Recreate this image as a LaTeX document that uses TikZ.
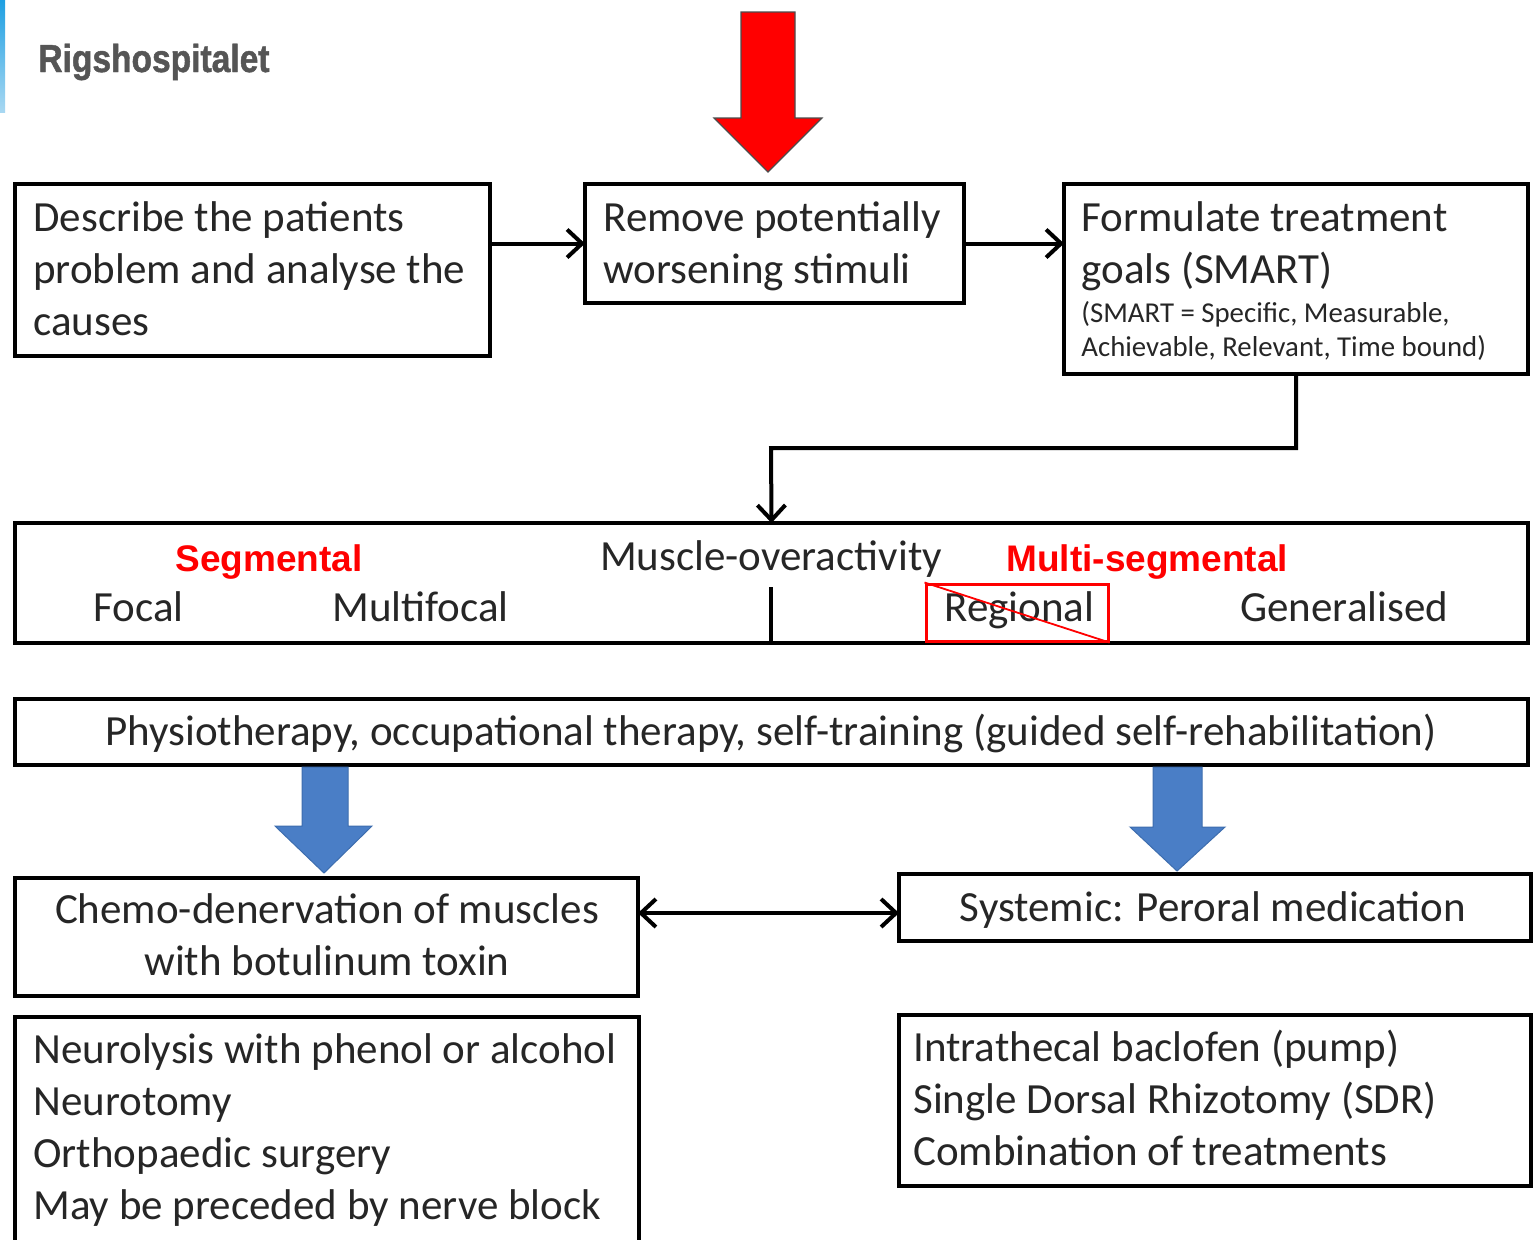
\documentclass[tikz,border=0pt]{standalone}
\usepackage{fontspec}
\setmainfont{Carlito}
\newfontfamily\labfont{Liberation Sans}
\newfontfamily\logofont[FakeStretch=0.86,FakeBold=1.2]{Liberation Sans Bold}
\usetikzlibrary{arrows.meta,calc}
\definecolor{txtgray}{HTML}{262626}
\definecolor{logogray}{HTML}{555555}
\definecolor{arrblue}{HTML}{4A7EC6}
\definecolor{arrblueedge}{HTML}{3D6DAE}
\definecolor{barblue}{HTML}{1E9FE2}
\definecolor{barlight}{HTML}{A8D8F2}
\newcommand\mybox[5]{\node[boxst, minimum width={(#4-#2)*0.5pt}, minimum height={(#5-#3)*0.5pt}] (#1) at ({(#2+#4)/2},{(#3+#5)/2}) {};}
\begin{document}
\begin{tikzpicture}[x=0.5pt,y=-0.5pt,
  boxst/.style={draw=black, line width=2.3pt, inner sep=0pt, outer sep=0pt, fill=white},
  txt/.style={inner sep=0pt, text=txtgray, font=\fontsize{21.5}{26}\selectfont, align=left},
  smalltxt/.style={inner sep=0pt, text=txtgray, font=\fontsize{14.4}{17}\selectfont, align=left},
  redlab/.style={inner sep=0pt, text=red, font=\labfont\bfseries\fontsize{18.5}{22}\selectfont},
  conn/.style={draw=black, line width=2pt, -{Straight Barb[length=7.5pt,width=14pt,line width=2pt]}},
  dbl/.style={draw=black, line width=2pt, {Straight Barb[length=7.5pt,width=14pt,line width=2pt]}-{Straight Barb[length=7.5pt,width=14pt,line width=2pt]}}
]
\useasboundingbox (0,0) rectangle (1536,1239);
\fill[white] (0,0) rectangle (1536,1239);

% logo
\shade[top color=barblue, bottom color=barlight] (0,0) rectangle (5,112);
\node[inner sep=0pt, anchor=base west, text=logogray, font=\logofont\fontsize{19.5}{22}\selectfont] (logo) at (38,72) {Rigshospitalet};

% top boxes
\mybox{b1}{15}{184}{490}{356}
\mybox{b2}{585}{184}{964}{303}
\mybox{b3}{1064}{184}{1528}{374}

\node[txt, anchor=base west] (t1) at (33,335) {Describe the patients\\problem and analyse the\\causes};
\node[txt, anchor=base west] (t2) at (603,283) {Remove potentially\\worsening stimuli};
\node[txt, anchor=base west] (t3) at (1081,283) {Formulate treatment\\goals (SMART)};
\node[smalltxt, anchor=base west] (t3s) at (1081,356) {(SMART = Specific, Measurable,\\Achievable, Relevant, Time bound)};

% red arrow
\filldraw[fill=red, draw=black!70, line width=0.6pt] (741,12) -- (795,12) -- (795,118) -- (822,118) -- (768,172) -- (714,118) -- (741,118) -- cycle;

\draw[conn] (b1.east |- b2.west) -- (b2.west);
\draw[conn] (b2.east) -- (b3.west |- b2.east);

% muscle box
\mybox{mb}{15}{523}{1528}{643}
\coordinate (bend) at (771,448);
\draw[conn] (b3.south) |- (bend) -- (mb.north);
\coordinate (divtop) at (771,587);
\draw[black, line width=2pt] (divtop) -- (divtop |- mb.south);

\node[txt, anchor=base] (mo) at (771,570) {Muscle-overactivity};
\node[redlab, anchor=base west] (seg) at (175,571) {Segmental};
\node[redlab, anchor=base west] (mseg) at (1006,571) {Multi-segmental};
\node[txt, anchor=base west] (focal) at (93,621) {Focal};
\node[txt, anchor=base west] (multi) at (332,621) {Multifocal};
\node[txt, anchor=base west] (reg) at (944,621) {Regional};
\node[txt, anchor=base west] (gen) at (1240,621) {Generalised};
\node[draw=red, line width=1.5pt, inner sep=0pt, minimum width={182*0.5pt}, minimum height={57*0.5pt}] (regbox) at (1017,612.5) {};
\draw[red, line width=0.9pt] (regbox.north west) -- (regbox.south east);

% physio box
\mybox{pb}{15}{699}{1528}{765}
\node[txt, anchor=base] (pt) at (771,745) {Physiotherapy, occupational therapy, self-training (guided self-rehabilitation)};

% blue arrows
\filldraw[fill=arrblue, draw=arrblueedge, line width=0.5pt] (302,767) -- (348,767) -- (348,826) -- (372,826) -- (324,873) -- (275,826) -- (302,826) -- cycle;
\filldraw[fill=arrblue, draw=arrblueedge, line width=0.5pt] (1153,767) -- (1202,767) -- (1202,827) -- (1225,827) -- (1177,871) -- (1130,827) -- (1153,827) -- cycle;

% lower boxes
\mybox{cb}{15}{878}{638}{996}
\mybox{sb}{899}{874}{1531}{941}
\node[txt, anchor=base, align=center] (ct) at (327,975) {Chemo-denervation of muscles\\with botulinum toxin};
\node[txt, anchor=base] (st) at (1213,921) {Systemic: Peroral medication};
\coordinate (dy) at (0,913);
\draw[dbl] (cb.east |- dy) -- (sb.west |- dy);

\mybox{nb}{15}{1017}{639}{1250}
\node[txt, anchor=base west] (nt) at (33,1219) {Neurolysis with phenol or alcohol\\Neurotomy\\Orthopaedic surgery\\May be preceded by nerve block};

\mybox{ib}{899}{1015}{1531}{1186}
\node[txt, anchor=base west] (it) at (913,1165) {Intrathecal baclofen (pump)\\Single Dorsal Rhizotomy (SDR)\\Combination of treatments};
\end{tikzpicture}
\end{document}
